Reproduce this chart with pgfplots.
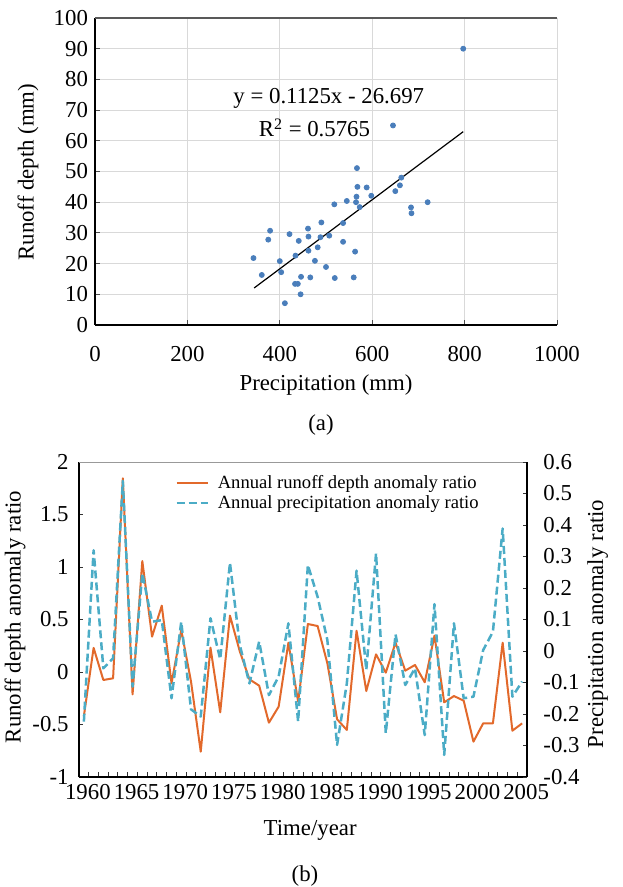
\documentclass[border=0pt]{standalone}
\usepackage{fontspec}
\setmainfont{Liberation Serif}
\usepackage{pgfplots}
\pgfplotsset{compat=1.18}

\definecolor{dotblue}{HTML}{4A7EBB}
\definecolor{runorange}{HTML}{E2692B}
\definecolor{precyan}{HTML}{4BACC6}
\definecolor{gridgray}{HTML}{D9D9D9}

\newcommand{\tickfont}{\fontsize{11.4}{13}\selectfont}
\newcommand{\legfont}{\fontsize{9.3}{10.5}\selectfont}

\pgfplotstableread{
P R
797 90
645 65
567 51.1
568 45.0
588 44.8
566 41.8
598 42.1
663 48.0
660 45.5
650 43.6
565 40.0
573 38.4
545 40.4
518 39.3
684 38.3
685 36.4
720 40.0
537 33.2
537 27.1
563 23.9
519 15.3
560 15.5
507 29.1
379 30.7
375 27.8
343 21.8
361 16.3
400 20.8
403 17.2
411 7.1
421 29.6
441 27.4
461 31.4
490 33.4
462 28.8
488 28.6
434 22.6
462 24.2
482 25.3
476 20.9
500 18.9
446 15.7
466 15.5
433 13.4
439 13.4
445 10.0
}\scatterdata

\pgfplotstableread{
year run prec
1960 -0.42 -0.224
1961 0.23 0.32
1962 -0.076 -0.055
1963 -0.06 -0.023
1964 1.845 0.54
1965 -0.213 -0.113
1966 1.057 0.247
1967 0.337 0.093
1968 0.632 0.098
1969 -0.108 -0.15
1970 0.40 0.093
1971 -0.09 -0.185
1972 -0.759 -0.208
1973 0.232 0.104
1974 -0.384 -0.026
1975 0.537 0.28
1976 0.20 0.02
1977 -0.07 -0.103
1978 -0.13 0.03
1979 -0.483 -0.14
1980 -0.33 -0.081
1981 0.279 0.088
1982 -0.283 -0.224
1983 0.457 0.273
1984 0.438 0.172
1985 0.083 0.035
1986 -0.45 -0.298
1987 -0.552 -0.103
1988 0.393 0.255
1989 -0.181 -0.06
1990 0.168 0.31
1991 -0.006 -0.261
1992 0.279 0.053
1993 0.013 -0.108
1994 0.067 -0.055
1995 -0.098 -0.267
1996 0.346 0.149
1997 -0.289 -0.33
1998 -0.229 0.088
1999 -0.273 -0.15
2000 -0.663 -0.145
2001 -0.489 0.003
2002 -0.489 0.061
2003 0.279 0.389
2004 -0.559 -0.145
2005 -0.489 -0.097
}\anomdata

\begin{document}
\begin{tikzpicture}
\useasboundingbox (0,0) rectangle (311pt,-443.5pt);

% ---------------- (a) scatter ----------------
\begin{axis}[
  at={(47.5pt,-9pt)}, anchor=north west,
  scale only axis, width=231pt, height=153.5pt,
  xmin=0, xmax=1000, ymin=0, ymax=100,
  xtick={0,200,400,600,800,1000},
  ytick={0,10,20,30,40,50,60,70,80,90,100},
  grid=major, grid style={gridgray, line width=0.5pt},
  axis x line*=bottom, axis y line*=left,
  axis line style={black, line width=0.6pt},
  tick align=inside, major tick length=2.5pt,
  tick style={black!70, line width=0.5pt},
  /pgf/number format/assume math mode=true,
  /pgf/number format/1000 sep={},
  tick label style={font=\tickfont},
  xticklabel style={yshift=-7pt},
  label style={font=\tickfont},
  xlabel={Precipitation (mm)},
  ylabel={Runoff depth (mm)},
  xlabel style={at={(axis description cs:0.5,-0.195)}, anchor=center},
  ylabel style={at={(axis description cs:-0.145,0.498)}, anchor=center},
  clip=false,
]
\draw[black!65, line width=0.6pt] (rel axis cs:0,1) -- (rel axis cs:1,1);
\addplot[only marks, mark=*, mark size=1.25pt, color=dotblue,
  mark options={draw=dotblue, fill=dotblue}] table[x=P, y=R] {\scatterdata};
\addplot[black, line width=0.6pt] coordinates {(344.5,12.06) (797,62.97)};
\node[font=\tickfont] at (axis cs:506,73.9) {y = 0.1125x - 26.697};
\node[font=\tickfont] at (axis cs:475,64.2) {R\textsuperscript{2} = 0.5765};
\end{axis}
\node[font=\tickfont] at (160.5pt,-212.5pt) {(a)};

% ---------------- (b) anomaly ratios ----------------
\begin{axis}[
  at={(39.5pt,-231pt)}, anchor=north west,
  scale only axis, width=224pt, height=157.5pt,
  xmin=1959.5, xmax=2005.5, ymin=-1, ymax=2,
  ytick={-1,-0.5,0,0.5,1,1.5,2},
  xtick={1960,1965,1970,1975,1980,1985,1990,1995,2000,2005},
  minor xtick={1959.5,1960.5,...,2005.5},
  major x tick style={draw=none},
  minor tick length=2.5pt,
  major tick length=2pt,
  axis x line*=bottom, axis y line*=left,
  axis line style={black, line width=0.6pt},
  tick align=inside,
  tick style={black!80, line width=0.5pt},
  /pgf/number format/assume math mode=true,
  /pgf/number format/1000 sep={},
  tick label style={font=\tickfont},
  xticklabel style={xshift=2pt},
  yticklabel style={xshift=-1.7pt},
  label style={font=\tickfont},
  xlabel={Time/year},
  ylabel={Runoff depth anomaly ratio},
  xlabel style={at={(axis description cs:0.516,-0.168)}, anchor=center},
  ylabel style={at={(axis description cs:-0.143,0.508)}, anchor=center},
]
\draw[black!40, line width=0.6pt] (rel axis cs:0,1) -- (rel axis cs:1,1);
\addplot[runorange, line width=1pt, line join=round] table[x=year, y=run] {\anomdata};
\end{axis}

\begin{axis}[
  at={(39.5pt,-231pt)}, anchor=north west,
  scale only axis, width=224pt, height=157.5pt,
  xmin=1959.5, xmax=2005.5, ymin=-0.4, ymax=0.6,
  ytick={-0.4,-0.3,-0.2,-0.1,0,0.1,0.2,0.3,0.4,0.5,0.6},
  axis x line=none, axis y line*=right,
  axis line style={black, line width=0.6pt},
  tick align=inside, major tick length=2pt,
  tick style={black!80, line width=0.5pt},
  /pgf/number format/assume math mode=true,
  tick label style={font=\tickfont},
  yticklabel style={xshift=4.7pt},
  label style={font=\tickfont},
  ylabel={Precipitation anomaly ratio},
  ylabel style={at={(axis description cs:1.158,0.486)}, anchor=center, rotate=0},
  legend style={draw=none, fill=none, font=\legfont,
    at={(axis description cs:0.214,0.966)}, anchor=north west,
    inner sep=0pt, row sep=0pt,
    nodes={inner sep=1pt, anchor=west},
    /tikz/every odd column/.append style={column sep=3.5pt}},
  legend cell align=left,
  legend image code/.code={\draw[#1] (0pt,0pt) -- (15.5pt,0pt);},
]
\addlegendimage{runorange, line width=1pt}
\addlegendentry{Annual runoff depth anomaly ratio}
\addplot[precyan, line width=1.25pt, dash pattern=on 4pt off 2pt, line join=round] table[x=year, y=prec] {\anomdata};
\addlegendentry{Annual precipitation anomaly ratio}
\end{axis}
\node[font=\tickfont] at (152.5pt,-438pt) {(b)};
\end{tikzpicture}
\end{document}
